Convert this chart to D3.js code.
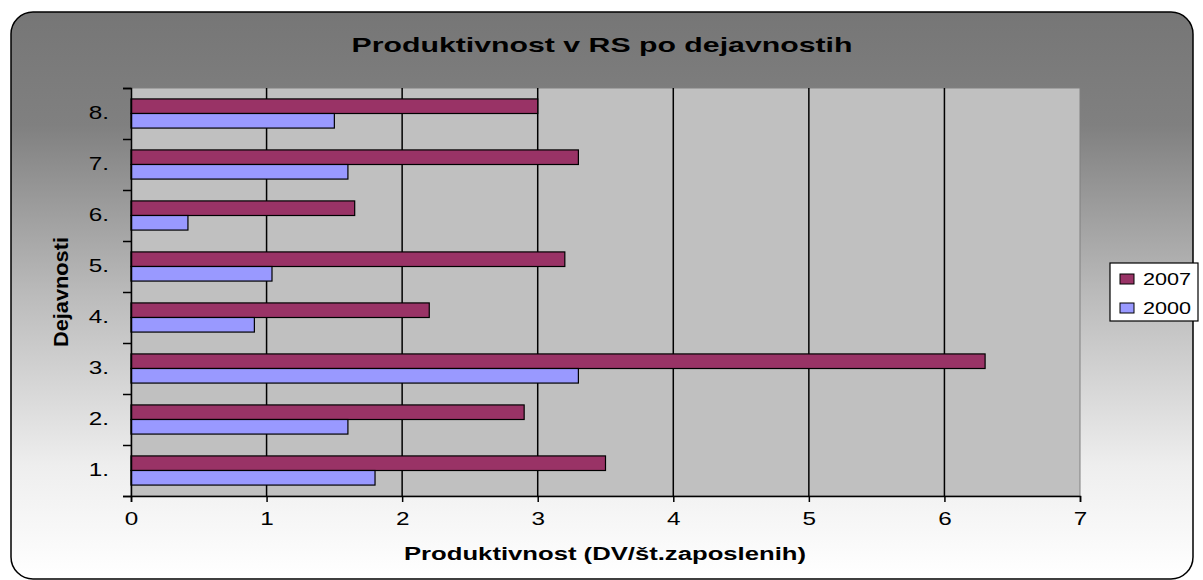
<!DOCTYPE html>
<html>
<head>
<meta charset="utf-8">
<script src="https://cdn.jsdelivr.net/npm/d3@7"></script>
<style>
  body { margin: 0; background: #fff; }
  text { font-family: "Liberation Sans", Arial, sans-serif; fill: #000; }
</style>
</head>
<body>
<svg id="chart" width="1203" height="580"></svg>
<script>
// chart data
const categories = ["1.", "2.", "3.", "4.", "5.", "6.", "7.", "8."];
const seriesNames = ["2007", "2000"];
const values2007 = [3.5, 2.9, 6.3, 2.2, 3.2, 1.65, 3.3, 3.0];
const values2000 = [1.8, 1.6, 3.3, 0.91, 1.04, 0.42, 1.6, 1.5];
const xTicks = [0, 1, 2, 3, 4, 5, 6, 7];
const colors = { "2007": "#993366", "2000": "#9999ff" };

const SX = 1.35; // the original picture is stretched sideways
const svg = d3.select("#chart");
const plot = { left: 131, right: 1080, top: 88, bottom: 496 };

// background panel with vertical gradient
const defs = svg.append("defs");
const grad = defs.append("linearGradient").attr("id", "bg")
    .attr("x1", 0).attr("y1", 0).attr("x2", 0).attr("y2", 1);
[[0, "#767676"], [0.2, "#808080"], [0.5, "#bbbbbb"], [0.8, "#eeeeee"], [1, "#ffffff"]]
    .forEach(s => grad.append("stop").attr("offset", s[0]).attr("stop-color", s[1]));

svg.append("rect")
    .attr("x", 11).attr("y", 12).attr("width", 1182).attr("height", 567)
    .attr("rx", 22).attr("ry", 22)
    .attr("fill", "url(#bg)").attr("stroke", "#000").attr("stroke-width", 1.5);

// scales
let x = d3.scaleLinear().domain([0, 7]).range([plot.left, plot.right]);
let y = d3.scaleBand().domain(categories.slice().reverse()).range([plot.top, plot.bottom]);
let ySub = d3.scaleBand().domain(seriesNames).range([0, y.bandwidth()])
    .paddingInner(0).paddingOuter(0.75);
let yEdges = d3.scaleLinear().domain([0, categories.length]).range([plot.bottom, plot.top]);

// plot area
svg.append("rect")
    .attr("x", plot.left).attr("y", plot.top)
    .attr("width", plot.right - plot.left).attr("height", plot.bottom - plot.top)
    .attr("fill", "#c0c0c0").attr("stroke", "#808080").attr("stroke-width", 1);

// vertical grid lines
svg.append("g").selectAll("line")
    .data(xTicks.slice(1, -1))
    .join("line")
    .attr("x1", d => x(d)).attr("x2", d => x(d))
    .attr("y1", plot.top).attr("y2", plot.bottom)
    .attr("stroke", "#000").attr("stroke-width", 1.5);

// bars
let rows = [];
categories.forEach((c, i) => {
    rows.push({ cat: c, series: "2007", value: values2007[i] });
    rows.push({ cat: c, series: "2000", value: values2000[i] });
});

svg.append("g").selectAll("rect")
    .data(rows)
    .join("rect")
    .attr("x", x(0))
    .attr("y", d => y(d.cat) + ySub(d.series))
    .attr("width", d => x(d.value) - x(0))
    .attr("height", ySub.bandwidth())
    .attr("fill", d => colors[d.series])
    .attr("stroke", "#000").attr("stroke-width", 1.2);

// x axis
let xAxis = d3.axisBottom(x).tickValues(xTicks).tickFormat(d3.format("d"))
    .tickSize(6).tickPadding(10);
let gx = svg.append("g")
    .attr("transform", `translate(0,${plot.bottom})`)
    .call(xAxis);
gx.select(".domain").attr("stroke", "#000").attr("stroke-width", 1.5);
gx.selectAll(".tick line").attr("stroke", "#000").attr("stroke-width", 1.5);
gx.selectAll(".tick text")
    .attr("font-size", 18).attr("font-family", "Liberation Sans, Arial, sans-serif")
    .attr("transform", `scale(${SX},1)`);

// y axis: ticks at category edges, labels in the middle of each band
let yAxisEdges = d3.axisLeft(yEdges).tickValues(d3.range(categories.length + 1))
    .tickSize(8).tickFormat("");
let gy = svg.append("g")
    .attr("transform", `translate(${plot.left},0)`)
    .call(yAxisEdges);
gy.select(".domain").attr("stroke", "#000").attr("stroke-width", 1.5);
gy.selectAll(".tick line").attr("stroke", "#000").attr("stroke-width", 1.5);

let yAxisLabels = d3.axisLeft(y).tickSize(0);
let gyl = svg.append("g")
    .attr("transform", `translate(${plot.left},0)`)
    .call(yAxisLabels);
gyl.select(".domain").remove();
gyl.selectAll(".tick text")
    .attr("x", -22 / SX)
    .attr("font-size", 18).attr("font-family", "Liberation Sans, Arial, sans-serif")
    .attr("transform", `scale(${SX},1)`);

// titles
svg.append("text")
    .attr("x", 602).attr("y", 52)
    .attr("text-anchor", "middle")
    .attr("font-size", 21).attr("font-weight", "bold")
    .attr("textLength", 501).attr("lengthAdjust", "spacingAndGlyphs")
    .text("Produktivnost v RS po dejavnostih");

svg.append("text")
    .attr("x", 605).attr("y", 560)
    .attr("text-anchor", "middle")
    .attr("font-size", 18).attr("font-weight", "bold")
    .attr("textLength", 402).attr("lengthAdjust", "spacingAndGlyphs")
    .text("Produktivnost (DV/št.zaposlenih)");

svg.append("text")
    .attr("transform", `translate(68,292) scale(1.1,1) rotate(-90)`)
    .attr("text-anchor", "middle")
    .attr("font-size", 18).attr("font-weight", "bold")
    .attr("textLength", 110).attr("lengthAdjust", "spacingAndGlyphs")
    .text("Dejavnosti");

// legend
let legend = svg.append("g");
legend.append("rect")
    .attr("x", 1110).attr("y", 263).attr("width", 88).attr("height", 58)
    .attr("fill", "#fff").attr("stroke", "#000").attr("stroke-width", 1.2);

let ly = d3.scalePoint().domain(seriesNames).range([279, 308]);
let items = legend.selectAll("g.item")
    .data(seriesNames)
    .join("g").attr("class", "item")
    .attr("transform", d => `translate(1120,${ly(d)})`);
items.append("rect")
    .attr("x", 0).attr("y", -5).attr("width", 14).attr("height", 10)
    .attr("fill", d => colors[d]).attr("stroke", "#000").attr("stroke-width", 1);
items.append("text")
    .attr("transform", `translate(23,6) scale(${SX},1)`)
    .attr("font-size", 16)
    .text(d => d);
</script>
</body>
</html>
